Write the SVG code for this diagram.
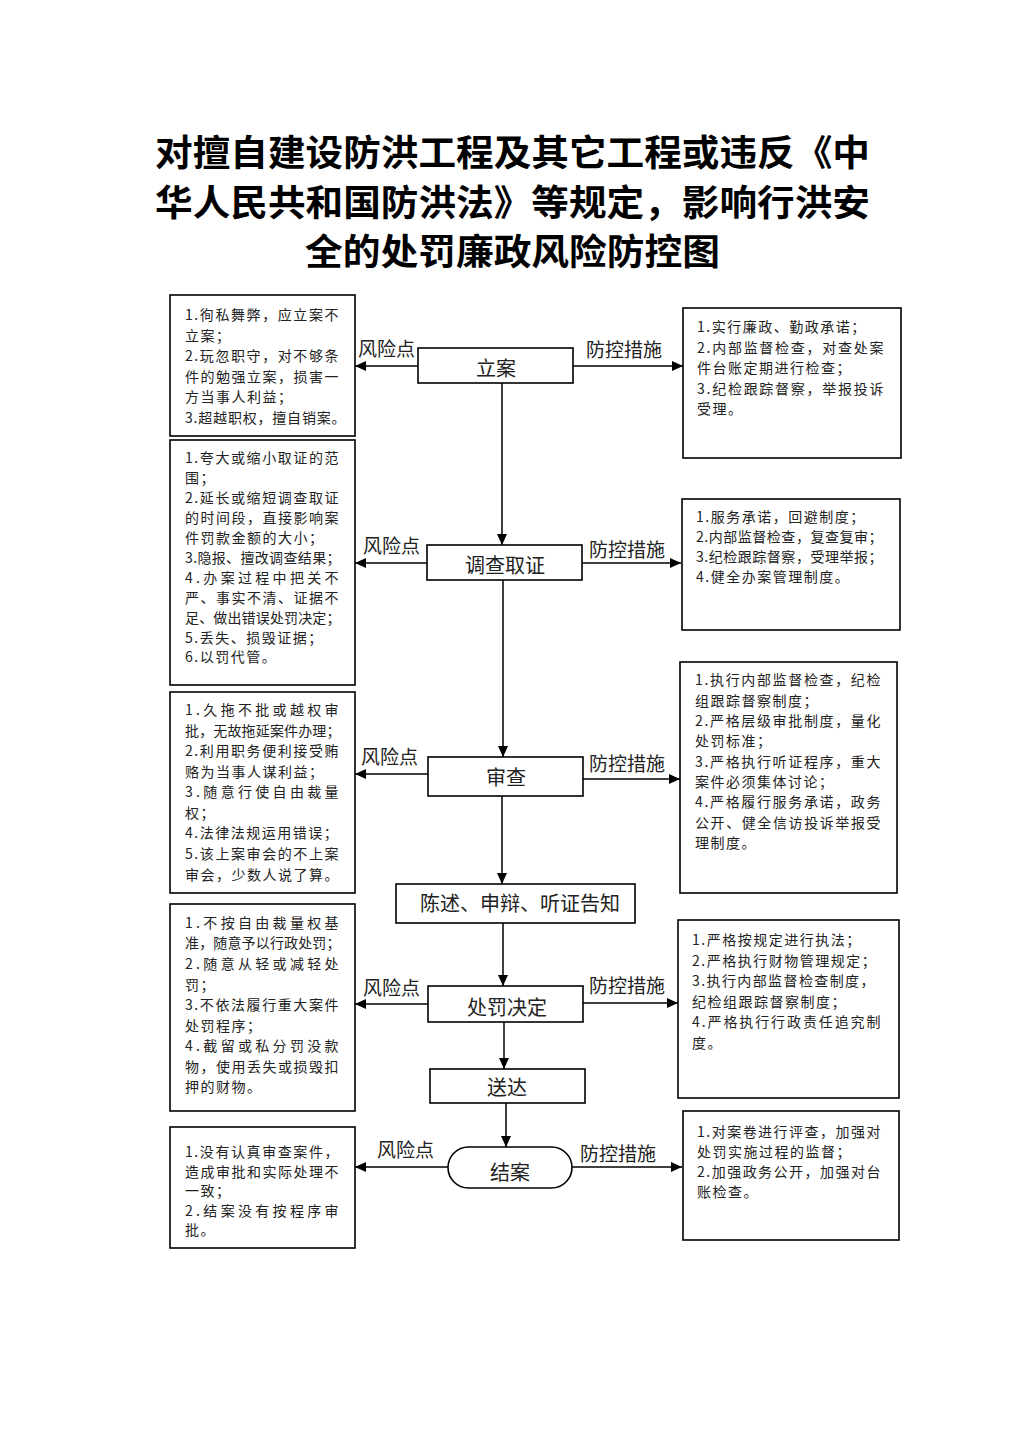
<svg xmlns="http://www.w3.org/2000/svg" width="1024" height="1449" viewBox="0 0 1024 1449">
<style>
.title{font-family:"Noto Sans CJK SC","Noto Sans",sans-serif;font-size:36px;font-weight:bold;fill:#000}
.box{fill:#fff;stroke:#000;stroke-width:1.6}
.node{fill:#fff;stroke:#000;stroke-width:1.6}
.t{font-family:"Noto Sans CJK SC","Noto Sans",sans-serif;font-size:14px;letter-spacing:1.5px;fill:#222}
.n{font-family:"Noto Sans CJK SC","Noto Sans",sans-serif;font-size:20px;fill:#222;text-anchor:middle}
.lbl{font-family:"Noto Sans CJK SC","Noto Sans",sans-serif;font-size:19px;fill:#222}
.c{stroke:#000;stroke-width:1.5;fill:none;marker-end:url(#ah)}
</style>
<defs>
<marker id="ah" markerUnits="userSpaceOnUse" markerWidth="12" markerHeight="10" refX="11" refY="5" orient="auto"><path d="M0,0 L11,5 L0,10 z" fill="#000"/></marker>
</defs>
<rect width="1024" height="1449" fill="#fff"/>
<g id="title">
<text class="title" x="155" y="166" textLength="715" lengthAdjust="spacingAndGlyphs">对擅自建设防洪工程及其它工程或违反《中</text>
<text class="title" x="155" y="216" textLength="715" lengthAdjust="spacingAndGlyphs">华人民共和国防洪法》等规定，影响行洪安</text>
<text class="title" x="305" y="265" textLength="415" lengthAdjust="spacingAndGlyphs">全的处罚廉政风险防控图</text>
</g>
<g id="connectors">
<line class="c" x1="502" y1="383" x2="502" y2="545"/>
<line class="c" x1="503" y1="580" x2="503" y2="757"/>
<line class="c" x1="502" y1="796" x2="502" y2="884"/>
<line class="c" x1="503" y1="923" x2="503" y2="986"/>
<line class="c" x1="504" y1="1022" x2="504" y2="1069"/>
<line class="c" x1="506" y1="1103" x2="506" y2="1147"/>
<line class="c" x1="418" y1="366" x2="355" y2="366"/>
<line class="c" x1="573" y1="366" x2="683" y2="366"/>
<line class="c" x1="427" y1="563" x2="355" y2="563"/>
<line class="c" x1="582" y1="563" x2="681" y2="563"/>
<line class="c" x1="428" y1="774" x2="355" y2="774"/>
<line class="c" x1="583" y1="779" x2="680" y2="779"/>
<line class="c" x1="428" y1="1004" x2="355" y2="1004"/>
<line class="c" x1="583" y1="1003" x2="678" y2="1003"/>
<line class="c" x1="448" y1="1167" x2="355" y2="1167"/>
<line class="c" x1="572" y1="1167" x2="682" y2="1167"/>
<text class="lbl" x="358" y="356">风险点</text>
<text class="lbl" x="586" y="357">防控措施</text>
<text class="lbl" x="363" y="553">风险点</text>
<text class="lbl" x="589" y="557">防控措施</text>
<text class="lbl" x="361" y="764">风险点</text>
<text class="lbl" x="589" y="771">防控措施</text>
<text class="lbl" x="363" y="995">风险点</text>
<text class="lbl" x="589" y="993">防控措施</text>
<text class="lbl" x="377" y="1157">风险点</text>
<text class="lbl" x="580" y="1161">防控措施</text>
</g>
<g id="node-lian">
<rect class="node" x="418" y="348" width="155" height="35"/>
<text class="n" x="496" y="376">立案</text>
</g>
<g id="node-diaocha">
<rect class="node" x="427" y="545" width="155" height="35"/>
<text class="n" x="505" y="573">调查取证</text>
</g>
<g id="node-shencha">
<rect class="node" x="428" y="757" width="155" height="39"/>
<text class="n" x="506" y="785">审查</text>
</g>
<g id="node-chenshu">
<rect class="node" x="396" y="884" width="239" height="39"/>
<text class="n" x="520" y="911">陈述、申辩、听证告知</text>
</g>
<g id="node-chufa">
<rect class="node" x="428" y="986" width="155" height="36"/>
<text class="n" x="507" y="1015">处罚决定</text>
</g>
<g id="node-songda">
<rect class="node" x="430" y="1069" width="155" height="34"/>
<text class="n" x="507" y="1095">送达</text>
</g>
<g id="node-jiean">
<rect class="node" x="448" y="1147" width="124" height="41" rx="20.5" ry="20.5"/>
<text class="n" x="510" y="1180">结案</text>
</g>
<g id="risk-1">
<rect class="box" x="170" y="295" width="185" height="141"/>
<text class="t" x="185" y="320" textLength="155" lengthAdjust="spacing">1.徇私舞弊，应立案不</text>
<text class="t" x="185" y="341">立案；</text>
<text class="t" x="185" y="361" textLength="155" lengthAdjust="spacing">2.玩忽职守，对不够条</text>
<text class="t" x="185" y="382" textLength="155" lengthAdjust="spacing">件的勉强立案，损害一</text>
<text class="t" x="185" y="402">方当事人利益；</text>
<text class="t" x="185" y="423" textLength="162" lengthAdjust="spacing">3.超越职权，擅自销案。</text>
</g>
<g id="risk-2">
<rect class="box" x="170" y="440" width="185" height="245"/>
<text class="t" x="185" y="463" textLength="155" lengthAdjust="spacing">1.夸大或缩小取证的范</text>
<text class="t" x="185" y="483">围；</text>
<text class="t" x="185" y="503" textLength="155" lengthAdjust="spacing">2.延长或缩短调查取证</text>
<text class="t" x="185" y="523" textLength="155" lengthAdjust="spacing">的时间段，直接影响案</text>
<text class="t" x="185" y="543">件罚款金额的大小；</text>
<text class="t" x="185" y="563" textLength="157" lengthAdjust="spacing">3.隐报、擅改调查结果；</text>
<text class="t" x="185" y="583" textLength="155" lengthAdjust="spacing">4.办案过程中把关不</text>
<text class="t" x="185" y="603" textLength="155" lengthAdjust="spacing">严、事实不清、证据不</text>
<text class="t" x="185" y="623" textLength="157" lengthAdjust="spacing">足、做出错误处罚决定；</text>
<text class="t" x="185" y="643">5.丢失、损毁证据；</text>
<text class="t" x="185" y="662">6.以罚代管。</text>
</g>
<g id="risk-3">
<rect class="box" x="170" y="692" width="185" height="201"/>
<text class="t" x="185" y="715" textLength="155" lengthAdjust="spacing">1.久拖不批或越权审</text>
<text class="t" x="185" y="736" textLength="157" lengthAdjust="spacing">批，无故拖延案件办理；</text>
<text class="t" x="185" y="756" textLength="155" lengthAdjust="spacing">2.利用职务便利接受贿</text>
<text class="t" x="185" y="777">赂为当事人谋利益；</text>
<text class="t" x="185" y="797" textLength="155" lengthAdjust="spacing">3.随意行使自由裁量</text>
<text class="t" x="185" y="818">权；</text>
<text class="t" x="185" y="838">4.法律法规运用错误；</text>
<text class="t" x="185" y="859" textLength="155" lengthAdjust="spacing">5.该上案审会的不上案</text>
<text class="t" x="185" y="880">审会，少数人说了算。</text>
</g>
<g id="risk-4">
<rect class="box" x="170" y="904" width="185" height="207"/>
<text class="t" x="185" y="928" textLength="155" lengthAdjust="spacing">1.不按自由裁量权基</text>
<text class="t" x="185" y="948" textLength="157" lengthAdjust="spacing">准，随意予以行政处罚；</text>
<text class="t" x="185" y="969" textLength="155" lengthAdjust="spacing">2.随意从轻或减轻处</text>
<text class="t" x="185" y="990">罚；</text>
<text class="t" x="185" y="1010" textLength="155" lengthAdjust="spacing">3.不依法履行重大案件</text>
<text class="t" x="185" y="1031">处罚程序；</text>
<text class="t" x="185" y="1051" textLength="155" lengthAdjust="spacing">4.截留或私分罚没款</text>
<text class="t" x="185" y="1072" textLength="155" lengthAdjust="spacing">物，使用丢失或损毁扣</text>
<text class="t" x="185" y="1092">押的财物。</text>
</g>
<g id="risk-5">
<rect class="box" x="170" y="1127" width="185" height="121"/>
<text class="t" x="185" y="1157" textLength="155" lengthAdjust="spacing">1.没有认真审查案件，</text>
<text class="t" x="185" y="1177" textLength="155" lengthAdjust="spacing">造成审批和实际处理不</text>
<text class="t" x="185" y="1196">一致；</text>
<text class="t" x="185" y="1216" textLength="155" lengthAdjust="spacing">2.结案没有按程序审</text>
<text class="t" x="185" y="1235">批。</text>
</g>
<g id="measure-1">
<rect class="box" x="683" y="308" width="218" height="150"/>
<text class="t" x="697" y="332">1.实行廉政、勤政承诺；</text>
<text class="t" x="697" y="353" textLength="188" lengthAdjust="spacing">2.内部监督检查，对查处案</text>
<text class="t" x="697" y="373">件台账定期进行检查；</text>
<text class="t" x="697" y="394" textLength="188" lengthAdjust="spacing">3.纪检跟踪督察，举报投诉</text>
<text class="t" x="697" y="414">受理。</text>
</g>
<g id="measure-2">
<rect class="box" x="682" y="499" width="218" height="131"/>
<text class="t" x="696" y="522">1.服务承诺，回避制度；</text>
<text class="t" x="696" y="542" textLength="188" lengthAdjust="spacing">2.内部监督检查，复查复审；</text>
<text class="t" x="696" y="562" textLength="188" lengthAdjust="spacing">3.纪检跟踪督察，受理举报；</text>
<text class="t" x="696" y="582">4.健全办案管理制度。</text>
</g>
<g id="measure-3">
<rect class="box" x="680" y="662" width="217" height="231"/>
<text class="t" x="695" y="685" textLength="187" lengthAdjust="spacing">1.执行内部监督检查，纪检</text>
<text class="t" x="695" y="706">组跟踪督察制度；</text>
<text class="t" x="695" y="726" textLength="187" lengthAdjust="spacing">2.严格层级审批制度，量化</text>
<text class="t" x="695" y="746">处罚标准；</text>
<text class="t" x="695" y="767" textLength="187" lengthAdjust="spacing">3.严格执行听证程序，重大</text>
<text class="t" x="695" y="787">案件必须集体讨论；</text>
<text class="t" x="695" y="807" textLength="187" lengthAdjust="spacing">4.严格履行服务承诺，政务</text>
<text class="t" x="695" y="828" textLength="187" lengthAdjust="spacing">公开、健全信访投诉举报受</text>
<text class="t" x="695" y="848">理制度。</text>
</g>
<g id="measure-4">
<rect class="box" x="678" y="920" width="221" height="178"/>
<text class="t" x="692" y="945">1.严格按规定进行执法；</text>
<text class="t" x="692" y="966">2.严格执行财物管理规定；</text>
<text class="t" x="692" y="986" textLength="184" lengthAdjust="spacing">3.执行内部监督检查制度，</text>
<text class="t" x="692" y="1007">纪检组跟踪督察制度；</text>
<text class="t" x="692" y="1027" textLength="190" lengthAdjust="spacing">4.严格执行行政责任追究制</text>
<text class="t" x="692" y="1048">度。</text>
</g>
<g id="measure-5">
<rect class="box" x="683" y="1111" width="216" height="129"/>
<text class="t" x="697" y="1137" textLength="185" lengthAdjust="spacing">1.对案卷进行评查，加强对</text>
<text class="t" x="697" y="1157">处罚实施过程的监督；</text>
<text class="t" x="697" y="1177" textLength="185" lengthAdjust="spacing">2.加强政务公开，加强对台</text>
<text class="t" x="697" y="1197">账检查。</text>
</g>
</svg>
